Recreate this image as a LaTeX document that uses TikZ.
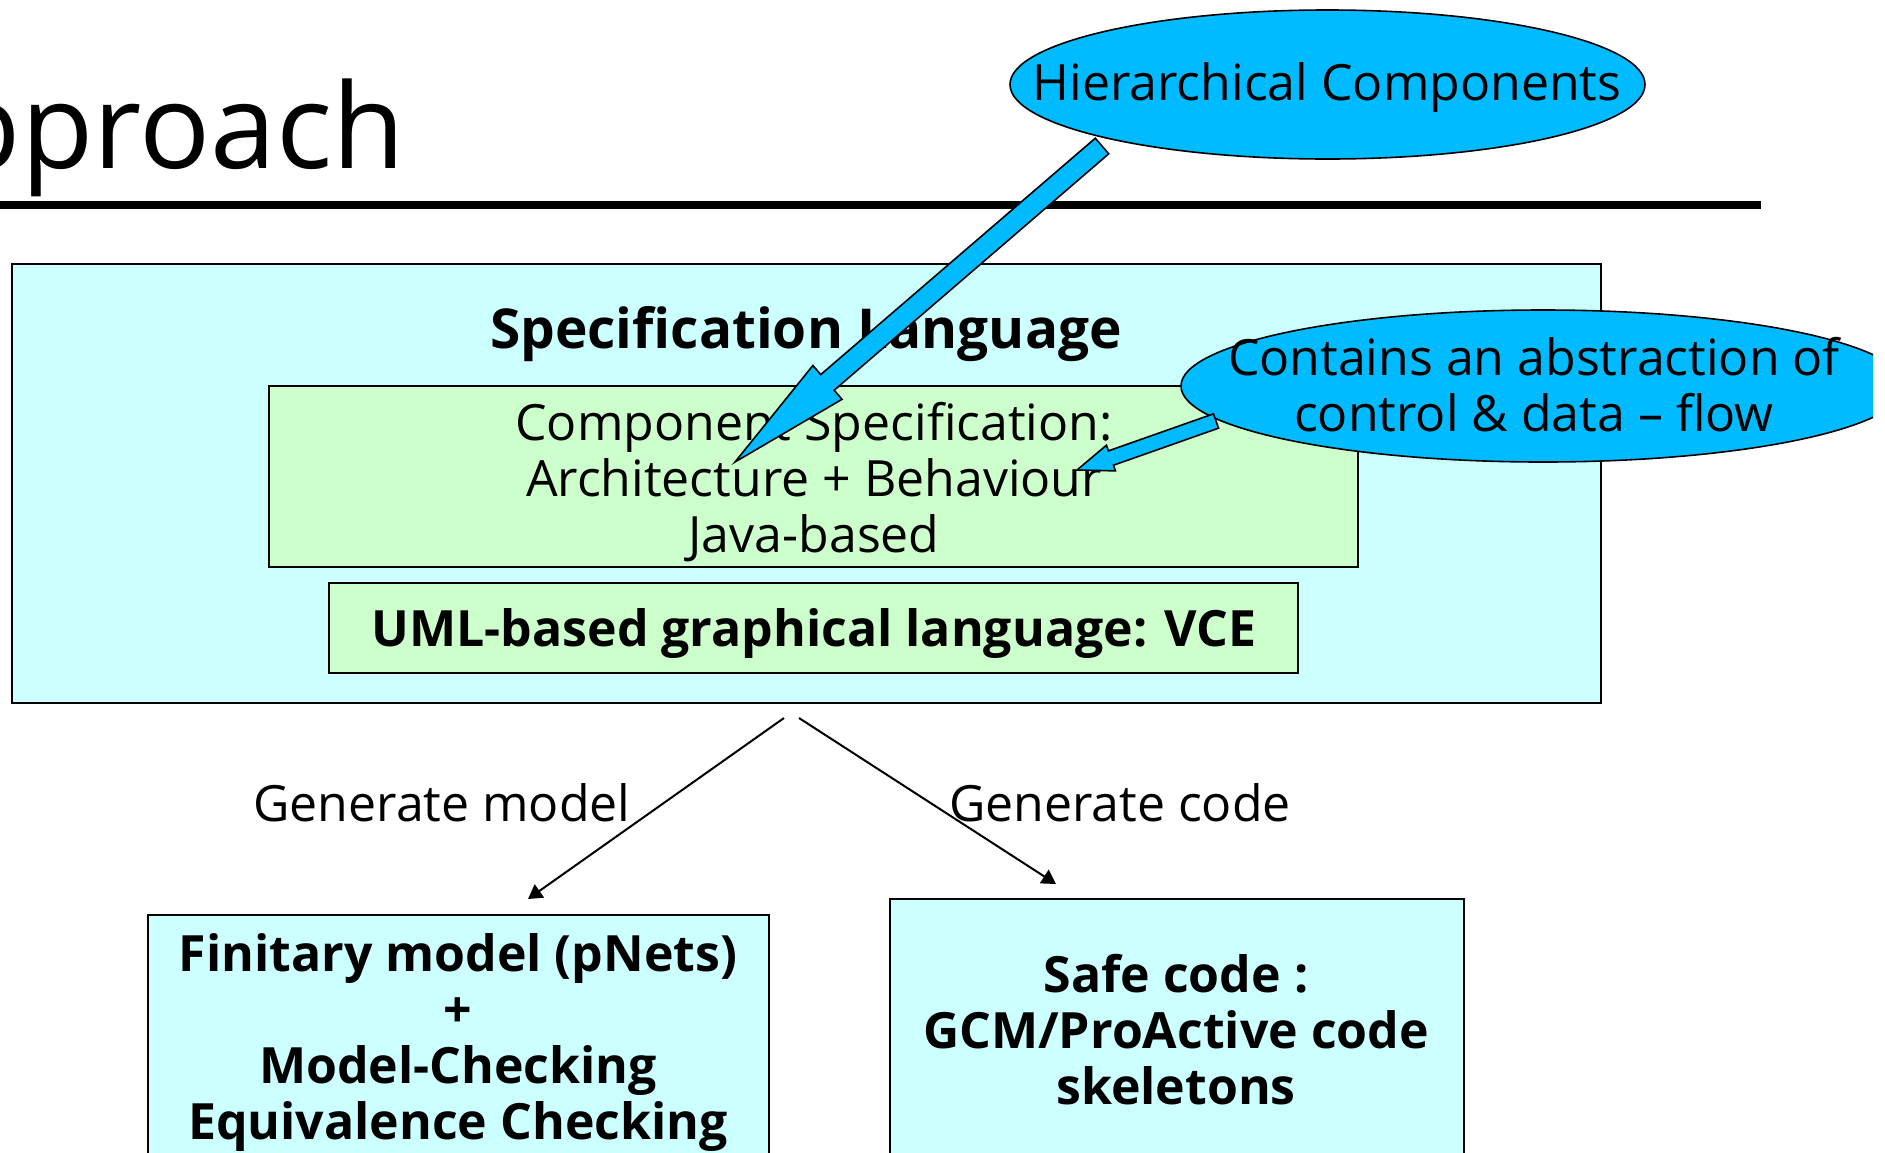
\documentclass[tikz,border=0pt]{standalone}
\usepackage{fontspec}
\setmainfont{Open Sans}
\usetikzlibrary{shapes.geometric,arrows.meta,calc}
\definecolor{lightcyanbg}{RGB}{204,255,255}
\definecolor{lightgreenbg}{RGB}{204,255,204}
\definecolor{calloutblue}{RGB}{0,187,255}
\begin{document}
\begin{tikzpicture}[x=0.5pt,y=-0.5pt,
  box/.style={draw=black,line width=1.2pt,inner sep=0pt},
  txt/.style={font=\fontsize{25pt}{28pt}\selectfont, inner sep=0pt, align=center},
  btxt/.style={font=\fontsize{25pt}{28pt}\selectfont\bfseries, inner sep=0pt, align=center},
  callouttext/.style={font=\fontsize{25pt}{28pt}\selectfont, inner sep=0pt, align=center},
  calloutshape/.style={draw=black, line width=0.8pt, fill=calloutblue},
  flow/.style={line width=1pt, -{Triangle[length=7pt,width=8pt]}},
  blockarrowstyle/.style={draw=black, line width=0.8pt, fill=calloutblue, line join=miter}
]
\useasboundingbox (0,0) rectangle (1885,1152);
\clip (0,0) rectangle (1885,1152);

% title and rule
\node[anchor=base east, font=\fontsize{59pt}{70pt}\selectfont, inner sep=0pt] (title) at (405,168) {Approach};
\draw[line width=4pt] (0,205) -- (1761,205);

% specification box
\node[box, fill=lightcyanbg, minimum width=794.5pt, minimum height=219.5pt] (spec) at (806.5,483.5) {};
\node[btxt, font=\fontsize{27.5pt}{28pt}\selectfont\bfseries] (spectitle) at (806,334) {Specification Language};
\node[box, fill=lightgreenbg, minimum width=544.5pt, minimum height=90.5pt] (comp) at (813.5,476.5) {};
\node[txt] (comptext) at (814,482) {Component Specification:\\Architecture + Behaviour\\Java-based};
\node[box, fill=lightgreenbg, minimum width=484.5pt, minimum height=45pt] (uml) at (813.5,628) {};
\node[btxt] (umltext) at (814,633) {UML-based graphical language: VCE};

% generation arrows
\coordinate (s1) at (784,718);
\coordinate (e1) at (528,899);
\coordinate (s2) at (799,718);
\coordinate (e2) at (1056,884);
\draw[flow] (s1) -- (e1);
\draw[flow] (s2) -- (e2);
\node[txt] (genmodel) at (442,803) {Generate model};
\node[txt] (gencode) at (1120,803) {Generate code};

% bottom boxes
\node[box, fill=lightcyanbg, minimum width=310.5pt, minimum height=142.5pt] (model) at (458.5,1057.5) {};
\node[btxt] (modeltext) at (458,1042) {Finitary model (pNets)\\+\\Model-Checking\\Equivalence Checking};
\node[box, fill=lightcyanbg, minimum width=287pt, minimum height=150.5pt] (code) at (1177,1049.5) {};
\node[btxt] (codetext) at (1176,1030) {Safe code :\\GCM/ProActive code\\skeletons};

% callouts
\coordinate (hcc) at (1327.5,84.5);
\draw[calloutshape] (hcc) ellipse [x radius=317.5, y radius=74.5];
\node[callouttext] (hc) at (1327,88) {Hierarchical Components};
\coordinate (cadfc) at (1543,386);
\begin{scope}
  \clip (0,0) rectangle (1873,1152);
  \draw[calloutshape] (cadfc) ellipse [x radius=362, y radius=76];
\end{scope}
\node[callouttext] (cadf) at (1534,385) {Contains an abstraction of\\control \& data -- flow};

% block arrow 1
\coordinate (tail1) at (1102,146);
\coordinate (tip1) at (735,462);
\coordinate (head1) at ($(tip1)!61pt!(tail1)$);
\draw[blockarrowstyle] ($(tail1)!5.15pt!90:(tip1)$) -- ($(head1)!5.15pt!-90:(tail1)$) -- ($(head1)!11.15pt!-90:(tail1)$)
  -- (tip1) -- ($(head1)!11.15pt!90:(tail1)$) -- ($(head1)!5.15pt!90:(tail1)$) -- ($(tail1)!5.15pt!-90:(tip1)$) -- cycle;

% block arrow 2
\coordinate (tail2) at (1216,421);
\coordinate (tip2) at (1077,470);
\coordinate (head2) at ($(tip2)!18pt!(tail2)$);
\draw[blockarrowstyle] ($(tail2)!3.8pt!90:(tip2)$) -- ($(head2)!3.8pt!-90:(tail2)$) -- ($(head2)!6.8pt!-90:(tail2)$)
  -- (tip2) -- ($(head2)!6.8pt!90:(tail2)$) -- ($(head2)!3.8pt!90:(tail2)$) -- ($(tail2)!3.8pt!-90:(tip2)$) -- cycle;
\end{tikzpicture}
\end{document}
